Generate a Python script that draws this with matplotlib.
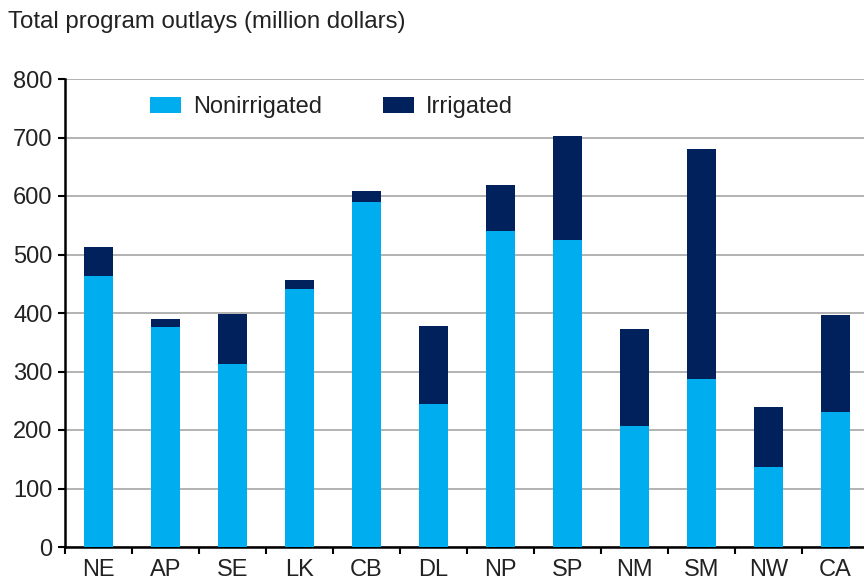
import matplotlib.pyplot as plt
import numpy as np

plt.rcParams["font.family"] = ["Liberation Sans", "DejaVu Sans"]

# Data (million dollars)
regions = ["NE", "AP", "SE", "LK", "CB", "DL", "NP", "SP", "NM", "SM", "NW", "CA"]
nonirrigated = [464, 376, 313, 441, 589, 244, 540, 525, 207, 288, 136, 230]
totals = [512, 390, 398, 456, 609, 378, 619, 703, 372, 680, 239, 397]
irrigated = [t - n for t, n in zip(totals, nonirrigated)]

LIGHT = "#00AEEF"
DARK = "#00215B"

fig = plt.figure(figsize=(8.64, 5.8), dpi=100)
ax = fig.add_axes([65 / 864, 33 / 580, 804 / 864, 468 / 580])

x = np.arange(len(regions))
w = 0.42
ax.bar(x, nonirrigated, width=w, color=LIGHT, label="Nonirrigated", zorder=3)
ax.bar(x, irrigated, width=w, bottom=nonirrigated, color=DARK, label="Irrigated", zorder=3)

ax.set_xlim(-0.5, len(regions) - 0.5)
ax.set_ylim(0, 800)
ax.set_yticks(np.arange(0, 801, 100))
ax.yaxis.grid(True, color="#a6a6a6", linewidth=1.2)
ax.set_axisbelow(True)

ax.set_xticks(x)
ax.set_xticklabels(regions)
ax.set_xticks(np.arange(-0.5, len(regions), 1), minor=True)
ax.tick_params(axis="x", which="major", length=0, labelsize=17, pad=9, labelcolor="#222222")
ax.tick_params(axis="x", which="minor", length=5, width=1.5, direction="out")
ax.tick_params(axis="y", length=5, width=1.5, labelsize=17, pad=4, labelcolor="#222222")

for s in ["top", "right"]:
    ax.spines[s].set_visible(False)
ax.spines["left"].set_linewidth(1.8)
ax.spines["bottom"].set_linewidth(1.8)

leg = ax.legend(loc="center left", bbox_to_anchor=(0.106, 0.94), ncol=2, frameon=False,
                fontsize=17, borderpad=0, borderaxespad=0, handlelength=1.3,
                handleheight=0.65, handletextpad=0.5, columnspacing=2.6)
for t in leg.get_texts():
    t.set_color("#222222")

fig.text(8 / 864, 1 - 22 / 580, "Total program outlays (million dollars)",
         fontsize=17.3, va="center", ha="left", color="#222222")

fig.savefig("out.png", dpi=100)
